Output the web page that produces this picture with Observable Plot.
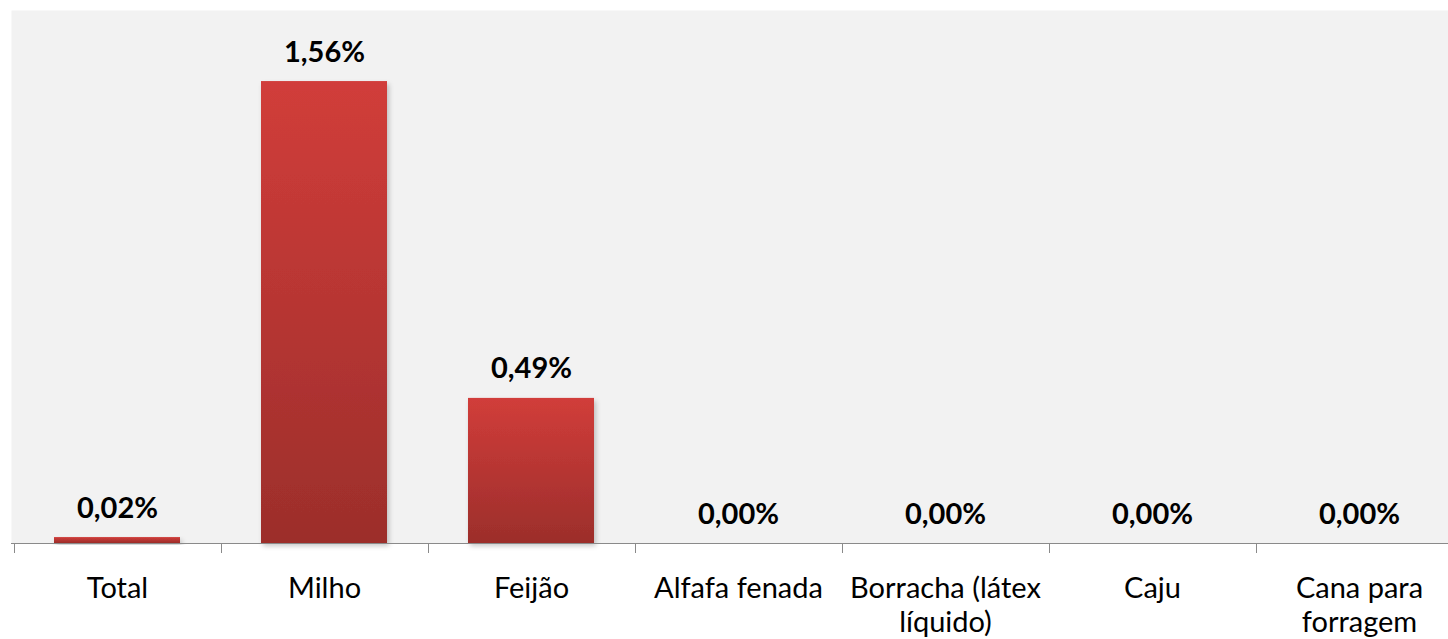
<!DOCTYPE html>
<html><head><meta charset="utf-8">
<script src="https://cdn.jsdelivr.net/npm/d3@7"></script>
<script src="https://cdn.jsdelivr.net/npm/@observablehq/plot@0.6"></script>
<style>body{margin:0;background:#fff} svg{display:block}</style>
</head><body><div id="chart"></div>
<script>
const categories = ["Total","Milho","Feijão","Alfafa fenada","Borracha (látex líquido)","Caju","Cana para forragem"];
const values = [0.02, 1.56, 0.49, 0, 0, 0, 0];
const tickLabels = ["Total","Milho","Feijão","Alfafa fenada","Borracha (látex\nlíquido)","Caju","Cana para\nforragem"];
const yDomain = [0, 1.8];

const data = categories.map((c, i) => ({category: c, value: values[i]}));
const labelOf = new Map(categories.map((c, i) => [c, tickLabels[i]]));
const fmt = v => v.toFixed(2).replace(".", ",") + "%";

function defs() {
  const d = d3.create("svg:defs");
  const g = d.append("linearGradient").attr("id", "barGrad")
    .attr("x1", 0).attr("y1", 0).attr("x2", 0).attr("y2", 1);
  g.append("stop").attr("offset", "0%").attr("stop-color", "#d13d3a");
  g.append("stop").attr("offset", "100%").attr("stop-color", "#9c2e2b");
  const f = d.append("filter").attr("id", "shadow")
    .attr("x", "-10%").attr("y", "-10%").attr("width", "130%").attr("height", "130%");
  f.append("feDropShadow").attr("dx", 2).attr("dy", 3).attr("stdDeviation", 2.5)
    .attr("flood-color", "#000").attr("flood-opacity", 0.22);
  return d.node();
}

function boundaryTicks(index, scales) {
  const x = scales.x, y = scales.y;
  const step = x.step ? x.step() : x(categories[1]) - x(categories[0]);
  const bw = x.bandwidth ? x.bandwidth() : step * 0.61;
  const y0 = y(0);
  const g = d3.create("svg:g").attr("stroke", "#8a8a8a").attr("stroke-width", 1);
  for (const c of categories) {
    const bx = Math.round(x(c) - (step - bw) / 2) + 0.5;
    g.append("line").attr("x1", bx).attr("x2", bx).attr("y1", y0).attr("y2", y0 + 10);
  }
  return g.node();
}

const chart = Plot.plot({
  width: 1448,
  height: 639,
  marginLeft: 11,
  marginRight: 0,
  marginTop: 10,
  marginBottom: 96,
  style: {fontFamily: "Lato, 'Open Sans', sans-serif", background: "#fff", color: "#000", overflow: "hidden"},
  x: {domain: categories, range: [11, 1466], paddingInner: 0.39, paddingOuter: 0.195, label: null},
  y: {domain: yDomain, axis: null},
  marks: [
    Plot.frame({fill: "#f2f2f2", stroke: "none"}),
    defs,
    Plot.barY(data, {x: "category", y: "value", fill: "url(#barGrad)"}),
    Plot.ruleY([0], {stroke: "#8a8a8a"}),
    boundaryTicks,
    Plot.text(data, {x: "category", y: "value", text: d => fmt(d.value), dy: -20,
      lineAnchor: "bottom", fontSize: 29, fontWeight: "bold", fill: "#000"}),
    Plot.axisX({tickSize: 0, tickPadding: 30, fontSize: 29, lineHeight: 1.17,
      tickFormat: c => labelOf.get(c), fill: "#000", label: null})
  ]
});
d3.select(chart).selectAll("rect").filter(function() {
  return this.getAttribute("fill") === "url(#barGrad)" || (this.parentNode && this.parentNode.getAttribute("fill") === "url(#barGrad)");
}).attr("filter", "url(#shadow)");
document.getElementById("chart").appendChild(chart);
</script>
</body></html>
